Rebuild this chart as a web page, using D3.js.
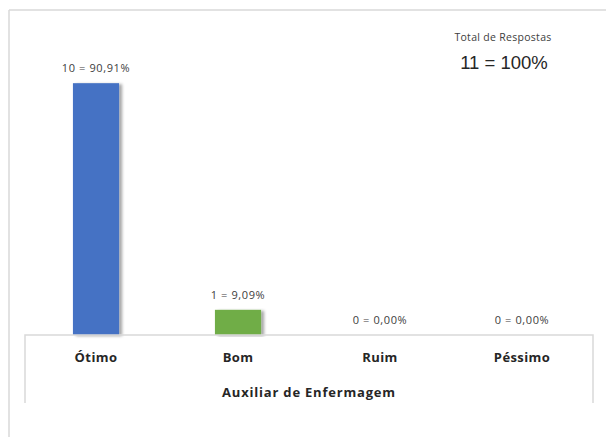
<!DOCTYPE html>
<html>
<head>
<meta charset="utf-8">
<script src="https://cdn.jsdelivr.net/npm/d3@7"></script>
<style>
  body { margin: 0; background: #fff; }
  svg { display: block; }
</style>
</head>
<body>
<svg id="chart" width="606" height="437"></svg>
<script>
// dados
var categorias = ["Ótimo", "Bom", "Ruim", "Péssimo"];
var respostas = [10, 1, 0, 0];
var rotulos = ["10 = 90,91%", "1 = 9,09%", "0 = 0,00%", "0 = 0,00%"];
var cores = ["#4472C4", "#70AD47", "#A5A5A5", "#FFC000"];
var tituloEixo = "Auxiliar de Enfermagem";
var totalTitulo = "Total de Respostas";
var totalTexto = "11 = 100%";

var svg = d3.select("#chart");
var fonte = "'Open Sans', 'Liberation Sans', sans-serif";

// sombra das barras
var defs = svg.append("defs");
var f = defs.append("filter").attr("id", "sombra")
  .attr("x", "-20%").attr("y", "-5%").attr("width", "160%").attr("height", "110%");
f.append("feDropShadow").attr("dx", 3).attr("dy", 1).attr("stdDeviation", 1.5)
  .attr("flood-color", "#000").attr("flood-opacity", 0.35);

// moldura externa
svg.append("line").attr("x1", 9).attr("y1", 10).attr("x2", 606).attr("y2", 10)
  .attr("stroke", "#d9d9d9").attr("stroke-width", 1.5);
svg.append("line").attr("x1", 9).attr("y1", 10).attr("x2", 9).attr("y2", 437)
  .attr("stroke", "#d9d9d9").attr("stroke-width", 1.5);

var left = 25, right = 593, base = 335, fundo = 403;

var x = d3.scaleBand()
  .domain(categorias)
  .range([left, right])
  .paddingInner(0.675)
  .paddingOuter(0.3375);

var y = d3.scaleLinear()
  .domain([0, 11])
  .range([base, base - 277]);

// barras
svg.append("g")
  .selectAll("rect")
  .data(respostas)
  .enter()
  .append("rect")
  .attr("x", function (d, i) { return x(categorias[i]); })
  .attr("y", function (d) { return y(d); })
  .attr("width", x.bandwidth())
  .attr("height", function (d) { return base - y(d); })
  .attr("fill", function (d, i) { return cores[i]; })
  .attr("filter", "url(#sombra)");

// rotulos de dados
svg.append("g")
  .selectAll("text")
  .data(respostas)
  .enter()
  .append("text")
  .attr("x", function (d, i) { return x(categorias[i]) + x.bandwidth() / 2; })
  .attr("y", function (d) { return y(d) - 11; })
  .attr("text-anchor", "middle")
  .style("font-family", fonte)
  .style("font-size", "11px")
  .style("letter-spacing", "0.6px")
  .style("fill", "#404040")
  .text(function (d, i) { return rotulos[i]; });

// tabela do eixo
svg.append("path")
  .attr("d", "M" + left + "," + fundo + "V" + base + "H" + right + "V" + fundo)
  .attr("fill", "none")
  .attr("stroke", "#d9d9d9")
  .attr("stroke-width", 1.5);

svg.append("g")
  .selectAll("text")
  .data(categorias)
  .enter()
  .append("text")
  .attr("x", function (d) { return x(d) + x.bandwidth() / 2; })
  .attr("y", 362)
  .attr("text-anchor", "middle")
  .style("font-family", fonte)
  .style("font-size", "13px")
  .style("font-weight", "bold")
  .style("letter-spacing", "0.4px")
  .style("fill", "#262626")
  .text(function (d) { return d; });

svg.append("text")
  .attr("x", (left + right) / 2)
  .attr("y", 397)
  .attr("text-anchor", "middle")
  .style("font-family", fonte)
  .style("font-size", "13px")
  .style("font-weight", "bold")
  .style("letter-spacing", "0.8px")
  .style("fill", "#262626")
  .text(tituloEixo);

// total
svg.append("text")
  .attr("x", 503)
  .attr("y", 41)
  .attr("text-anchor", "middle")
  .style("font-family", fonte)
  .style("font-size", "10.5px")
  .style("letter-spacing", "0.3px")
  .style("fill", "#404040")
  .text(totalTitulo);

svg.append("text")
  .attr("x", 504)
  .attr("y", 69)
  .attr("text-anchor", "middle")
  .style("font-family", "'Liberation Sans', Arial, sans-serif")
  .style("font-size", "18.5px")
  .style("fill", "#262626")
  .text(totalTexto);
</script>
</body>
</html>
